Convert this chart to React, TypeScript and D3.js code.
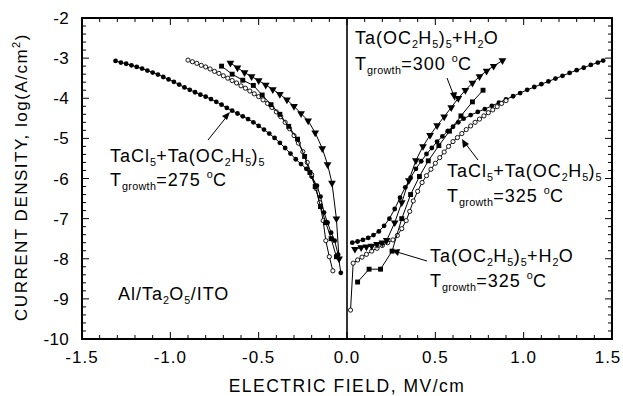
import * as d3 from "d3";

// axis ticks
const fieldTicks = [-1.5, -1.0, -0.5, 0.0, 0.5, 1.0, 1.5];
const densityTicks = [-2, -3, -4, -5, -6, -7, -8, -9, -10];

// [electric field MV/cm, log J]
// TaCl5 + Ta(OC2H5)5, 275 C  (filled circles)
const chloride275Neg: [number, number][] = [
  [-1.31, -3.07], [-1.28, -3.11], [-1.25, -3.14], [-1.22, -3.18], [-1.19, -3.22],
  [-1.16, -3.26], [-1.13, -3.31], [-1.1, -3.36], [-1.07, -3.41], [-1.04, -3.47],
  [-1.01, -3.53], [-0.98, -3.59], [-0.95, -3.66], [-0.92, -3.73], [-0.89, -3.79],
  [-0.86, -3.85], [-0.83, -3.91], [-0.8, -3.96], [-0.77, -4.02], [-0.74, -4.09],
  [-0.71, -4.16], [-0.68, -4.24], [-0.65, -4.31], [-0.62, -4.38], [-0.59, -4.45],
  [-0.56, -4.52], [-0.53, -4.6], [-0.5, -4.69], [-0.47, -4.78], [-0.44, -4.88],
  [-0.41, -4.99], [-0.38, -5.11], [-0.35, -5.24], [-0.32, -5.38], [-0.29, -5.52],
  [-0.26, -5.64], [-0.23, -5.76], [-0.2, -5.95], [-0.17, -6.18], [-0.15, -6.45],
  [-0.13, -6.85], [-0.11, -7.1], [-0.09, -7.35], [-0.07, -7.55], [-0.05, -7.9],
  [-0.035, -8.35],
];
const chloride275Pos: [number, number][] = [
  [0.03, -7.6], [0.06, -7.57], [0.09, -7.53], [0.12, -7.48], [0.15, -7.41],
  [0.18, -7.32], [0.21, -7.18], [0.24, -7.0], [0.27, -6.76], [0.3, -6.48],
  [0.33, -6.22], [0.36, -5.98], [0.39, -5.76], [0.42, -5.57], [0.45, -5.39],
  [0.48, -5.24], [0.51, -5.08], [0.54, -4.95], [0.57, -4.82], [0.6, -4.71],
  [0.63, -4.6], [0.66, -4.51], [0.7, -4.42], [0.74, -4.34], [0.78, -4.27],
  [0.82, -4.19], [0.86, -4.11], [0.9, -4.03], [0.94, -3.95], [0.98, -3.87],
  [1.02, -3.79], [1.06, -3.72], [1.1, -3.65], [1.14, -3.58], [1.18, -3.51],
  [1.22, -3.44], [1.26, -3.37], [1.3, -3.3], [1.34, -3.24], [1.38, -3.17],
  [1.42, -3.11], [1.45, -3.06],
];

// TaCl5 + Ta(OC2H5)5, 325 C  (open circles)
const chloride325Neg: [number, number][] = [
  [-0.9, -3.05], [-0.875, -3.09], [-0.85, -3.13], [-0.825, -3.18], [-0.8, -3.22],
  [-0.775, -3.27], [-0.75, -3.33], [-0.725, -3.38], [-0.7, -3.44], [-0.675, -3.5],
  [-0.65, -3.56], [-0.625, -3.62], [-0.6, -3.69], [-0.575, -3.75], [-0.55, -3.82],
  [-0.525, -3.89], [-0.5, -3.96], [-0.475, -4.04], [-0.45, -4.13], [-0.425, -4.23],
  [-0.4, -4.34], [-0.375, -4.46], [-0.35, -4.6], [-0.325, -4.76], [-0.3, -4.93],
  [-0.275, -5.12], [-0.25, -5.33], [-0.225, -5.6], [-0.2, -5.9], [-0.175, -6.25],
  [-0.155, -6.6], [-0.135, -7.05], [-0.12, -7.55], [-0.1, -7.95], [-0.08, -8.3],
];
const chloride325Pos: [number, number][] = [
  [0.02, -9.28], [0.035, -8.11], [0.06, -8.03], [0.085, -7.96], [0.11, -7.89],
  [0.14, -7.81], [0.17, -7.74], [0.2, -7.67], [0.23, -7.6], [0.26, -7.53],
  [0.285, -7.42], [0.31, -7.25], [0.335, -7.05], [0.355, -6.82], [0.375, -6.56],
  [0.4, -6.32], [0.425, -6.1], [0.45, -5.93], [0.475, -5.77], [0.5, -5.62],
  [0.525, -5.48], [0.55, -5.34], [0.575, -5.2], [0.6, -5.08], [0.625, -4.98],
  [0.65, -4.88], [0.675, -4.78], [0.7, -4.69], [0.725, -4.6], [0.75, -4.52],
  [0.775, -4.44], [0.8, -4.36], [0.825, -4.29], [0.85, -4.21], [0.875, -4.13],
  [0.9, -4.06],
];

// Ta(OC2H5)5 + H2O, 300 C  (down triangles)
const water300Neg: [number, number][] = [
  [-0.66, -3.12], [-0.62, -3.24], [-0.58, -3.36], [-0.54, -3.46], [-0.5, -3.56],
  [-0.46, -3.67], [-0.42, -3.78], [-0.38, -3.9], [-0.34, -4.04], [-0.3, -4.2],
  [-0.26, -4.38], [-0.22, -4.56], [-0.18, -4.86], [-0.14, -5.25], [-0.11, -5.65],
  [-0.085, -6.11], [-0.06, -7.0], [-0.045, -8.0],
];
const water300Pos: [number, number][] = [
  [0.045, -7.76], [0.08, -7.72], [0.11, -7.7], [0.14, -7.68], [0.17, -7.64],
  [0.2, -7.6], [0.225, -7.54], [0.27, -7.1], [0.31, -6.6], [0.35, -6.05],
  [0.39, -5.55], [0.43, -5.2], [0.47, -4.92], [0.51, -4.68], [0.55, -4.46],
  [0.59, -4.23], [0.63, -4.0], [0.67, -3.8], [0.71, -3.62], [0.75, -3.46],
  [0.79, -3.32], [0.83, -3.2], [0.88, -3.06],
];

// Ta(OC2H5)5 + H2O, 325 C  (filled squares)
const water325Neg: [number, number][] = [
  [-0.71, -3.2], [-0.65, -3.4], [-0.59, -3.55], [-0.53, -3.68], [-0.48, -3.92],
  [-0.43, -4.16], [-0.38, -4.4], [-0.33, -4.7], [-0.28, -5.02], [-0.24, -5.45],
  [-0.21, -5.85], [-0.18, -6.2], [-0.15, -6.7], [-0.12, -7.1], [-0.09, -7.5],
  [-0.06, -7.95],
];
const water325Pos: [number, number][] = [
  [0.06, -8.58], [0.125, -8.26], [0.19, -8.26], [0.255, -7.81], [0.31, -7.0],
  [0.36, -6.4], [0.41, -5.95], [0.46, -5.56], [0.52, -5.18], [0.58, -4.82],
  [0.645, -4.44], [0.71, -4.09], [0.77, -3.8],
];

const FONT = "'Liberation Sans', Arial, Helvetica, sans-serif";

type Seg = [string, "n" | "sub" | "sup"];

function Rich({ x, y, segs, size = 18, spacing = 1.0 }: { x: number; y: number; segs: Seg[]; size?: number; spacing?: number }) {
  let offset = 0;
  return (
    <text x={x} y={y} fontSize={size} fontFamily={FONT} letterSpacing={spacing} fill="#000">
      {segs.map(([t, kind], i) => {
        const target = kind === "sub" ? 4 : kind === "sup" ? -8 : 0;
        const dy = target - offset;
        offset = target;
        return (
          <tspan key={i} dy={dy} fontSize={kind === "n" ? size : size * 0.6} letterSpacing={kind === "n" ? spacing : 0.3}>
            {t}
          </tspan>
        );
      })}
    </text>
  );
}

export default function App() {
  const width = 623;
  const height = 396;
  const left = 82, right = 612, top = 18, bottom = 339;

  const x = d3.scaleLinear().domain([-1.5, 1.5]).range([left, right]);
  const y = d3.scaleLinear().domain([-10, -2]).range([bottom, top]);
  const line = d3.line<[number, number]>().x((d) => x(d[0])).y((d) => y(d[1]));

  const xMinor = d3.range(-15, 16).map((i) => i / 10);
  const yMinor = d3.range(-50, -9).map((i) => i / 5);

  const tri = d3.symbol().type(d3.symbolTriangle).size(26)();
  const sq = d3.symbol().type(d3.symbolSquare).size(24)();

  const series = [
    { data: [chloride275Neg, chloride275Pos], mark: "dot" },
    { data: [chloride325Neg, chloride325Pos], mark: "ring" },
    { data: [water325Neg, water325Pos], mark: "square" },
    { data: [water300Neg, water300Pos], mark: "tri" },
  ];

  const marker = (kind: string, px: number, py: number, key: string) => {
    if (kind === "dot") return <circle key={key} cx={px} cy={py} r={2.4} fill="#000" />;
    if (kind === "ring") return <circle key={key} cx={px} cy={py} r={2.1} fill="#fff" stroke="#000" strokeWidth={0.9} />;
    if (kind === "square") return <path key={key} d={sq!} transform={`translate(${px},${py})`} fill="#000" />;
    return <path key={key} d={tri!} transform={`translate(${px},${py}) rotate(180)`} fill="#000" />;
  };

  return (
    <svg width={width} height={height} style={{ position: "absolute", left: 0, top: 0, background: "#fff" }}>
      <rect x={0} y={0} width={width} height={height} fill="#fff" />

      {/* minor / major ticks, inward on all sides */}
      <g stroke="#000" strokeWidth={1}>
        {xMinor.map((v, i) => {
          const major = Math.abs(v * 2 - Math.round(v * 2)) < 1e-6;
          const len = major ? 7 : 4;
          return (
            <g key={`xt${i}`}>
              <line x1={x(v)} x2={x(v)} y1={bottom} y2={bottom - len} />
              <line x1={x(v)} x2={x(v)} y1={top} y2={top + len} />
            </g>
          );
        })}
        {yMinor.map((v, i) => {
          const major = Math.abs(v - Math.round(v)) < 1e-6;
          const len = major ? 7 : 4;
          return (
            <g key={`yt${i}`}>
              <line x1={left} x2={left + len} y1={y(v)} y2={y(v)} />
              <line x1={right} x2={right - len} y1={y(v)} y2={y(v)} />
            </g>
          );
        })}
      </g>

      {/* zero field line */}
      <line x1={x(0)} x2={x(0)} y1={top} y2={bottom} stroke="#000" strokeWidth={1.6} />

      {/* curves */}
      {series.map((s, si) =>
        s.data.map((arr, ai) => (
          <g key={`s${si}${ai}`}>
            <path d={line(arr)!} fill="none" stroke="#000" strokeWidth={1} />
            {arr.map((d, k) => marker(s.mark, x(d[0]), y(d[1]), `m${si}${ai}${k}`))}
          </g>
        ))
      )}

      {/* frame */}
      <rect x={left} y={top} width={right - left} height={bottom - top} fill="none" stroke="#000" strokeWidth={2} />

      {/* tick labels */}
      {fieldTicks.map((v) => (
        <text key={`xl${v}`} x={x(v) + (v === 1.5 ? -4 : 0)} y={bottom + 24} textAnchor="middle" fontSize={17} fontFamily={FONT} letterSpacing={1}>
          {v.toFixed(1)}
        </text>
      ))}
      {densityTicks.map((v) => (
        <text key={`yl${v}`} x={left - 13} y={y(v) + 6} textAnchor="end" fontSize={17} fontFamily={FONT} letterSpacing={0.3}>
          {v}
        </text>
      ))}

      {/* axis titles */}
      <text x={347} y={392} textAnchor="middle" fontSize={17.5} fontFamily={FONT} letterSpacing={1.5}>
        ELECTRIC FIELD, MV/cm
      </text>
      <g transform="translate(27,177) rotate(-90)">
        <text x={0} y={0} textAnchor="middle" fontSize={17} fontFamily={FONT} letterSpacing={1.5}>
          CURRENT DENSITY, log(A/cm<tspan dy={-7} fontSize={11}>2</tspan>
          <tspan dy={7}>)</tspan>
        </text>
      </g>

      {/* annotations */}
      <Rich x={110} y={162} segs={[["TaCl", "n"], ["5", "sub"], ["+Ta(OC", "n"], ["2", "sub"], ["H", "n"], ["5", "sub"], [")", "n"], ["5", "sub"]]} />
      <Rich x={110} y={186} segs={[["T", "n"], ["growth", "sub"], ["=275 ", "n"], ["o", "sup"], ["C", "n"]]} />
      <line x1={208} y1={140} x2={228} y2={115} stroke="#000" strokeWidth={1} />
      <path d="M230,112 L222,116 L227,120 Z" fill="#000" />

      <Rich x={355} y={44} segs={[["Ta(OC", "n"], ["2", "sub"], ["H", "n"], ["5", "sub"], [")", "n"], ["5", "sub"], ["+H", "n"], ["2", "sub"], ["O", "n"]]} />
      <Rich x={355} y={70} segs={[["T", "n"], ["growth", "sub"], ["=300 ", "n"], ["o", "sup"], ["C", "n"]]} />
      <line x1={447} y1={78} x2={454} y2={96} stroke="#000" strokeWidth={1} />
      <path d="M455,101 L450,93 L457,92 Z" fill="#000" />

      <Rich x={447} y={177} segs={[["TaCl", "n"], ["5", "sub"], ["+Ta(OC", "n"], ["2", "sub"], ["H", "n"], ["5", "sub"], [")", "n"], ["5", "sub"]]} />
      <Rich x={447} y={202} segs={[["T", "n"], ["growth", "sub"], ["=325 ", "n"], ["o", "sup"], ["C", "n"]]} />
      <line x1={478} y1={160} x2={465} y2={143} stroke="#000" strokeWidth={1} />
      <path d="M462,139 L463,148 L469,144 Z" fill="#000" />

      <Rich x={430} y={262} segs={[["Ta(OC", "n"], ["2", "sub"], ["H", "n"], ["5", "sub"], [")", "n"], ["5", "sub"], ["+H", "n"], ["2", "sub"], ["O", "n"]]} />
      <Rich x={430} y={287} segs={[["T", "n"], ["growth", "sub"], ["=325 ", "n"], ["o", "sup"], ["C", "n"]]} />
      <line x1={427} y1={261} x2={397} y2={252} stroke="#000" strokeWidth={1} />
      <path d="M392,250 L400,249 L398,256 Z" fill="#000" />

      <Rich x={118} y={300} segs={[["Al/Ta", "n"], ["2", "sub"], ["O", "n"], ["5", "sub"], ["/ITO", "n"]]} />
    </svg>
  );
}
